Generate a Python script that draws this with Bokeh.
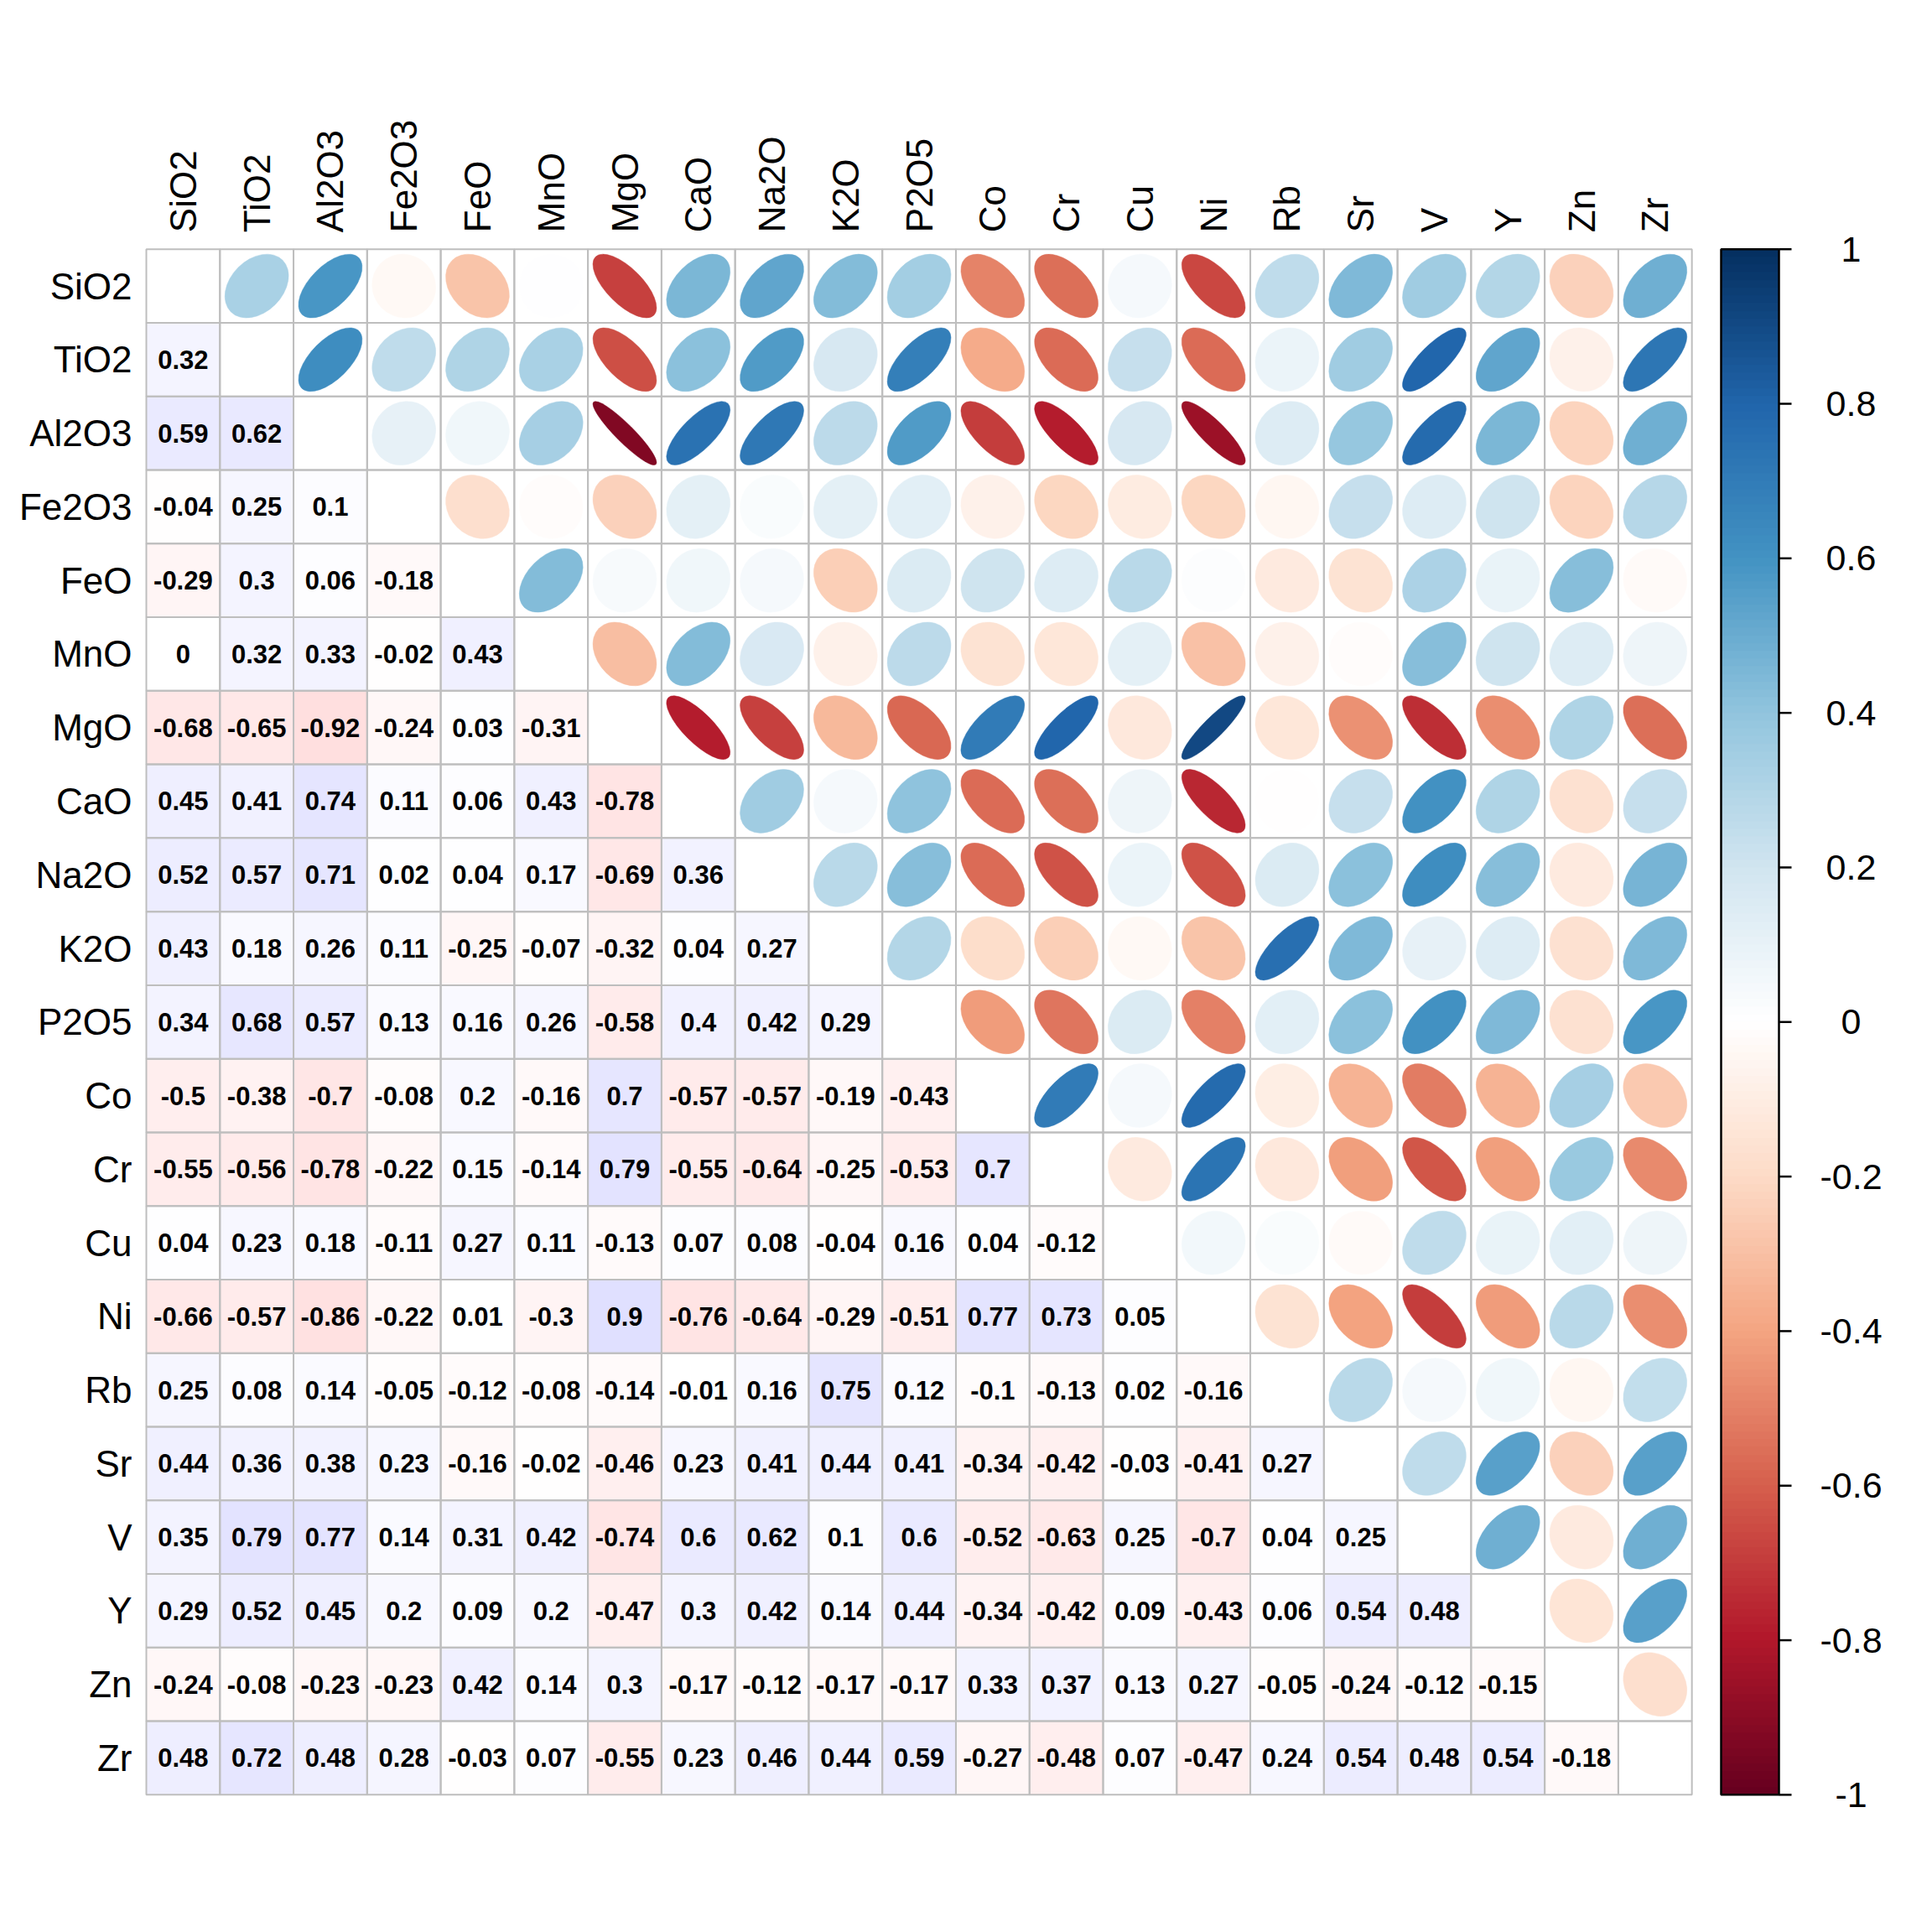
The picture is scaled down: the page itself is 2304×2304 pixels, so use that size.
import numpy as np
from bokeh.plotting import figure
from bokeh.models import ColumnDataSource, LinearColorMapper, Range1d
from bokeh.transform import transform
from bokeh.core.properties import value
from bokeh.embed import file_html
from bokeh.resources import INLINE

# ---------------- data ----------------
variables = ["SiO2", "TiO2", "Al2O3", "Fe2O3", "FeO", "MnO", "MgO", "CaO", "Na2O",
             "K2O", "P2O5", "Co", "Cr", "Cu", "Ni", "Rb", "Sr", "V", "Y", "Zn", "Zr"]

# lower triangle of the correlation matrix (row i, columns 0..i-1)
lower = [
    [],
    [0.32],
    [0.59, 0.62],
    [-0.04, 0.25, 0.1],
    [-0.29, 0.3, 0.06, -0.18],
    [0, 0.32, 0.33, -0.02, 0.43],
    [-0.68, -0.65, -0.92, -0.24, 0.03, -0.31],
    [0.45, 0.41, 0.74, 0.11, 0.06, 0.43, -0.78],
    [0.52, 0.57, 0.71, 0.02, 0.04, 0.17, -0.69, 0.36],
    [0.43, 0.18, 0.26, 0.11, -0.25, -0.07, -0.32, 0.04, 0.27],
    [0.34, 0.68, 0.57, 0.13, 0.16, 0.26, -0.58, 0.4, 0.42, 0.29],
    [-0.5, -0.38, -0.7, -0.08, 0.2, -0.16, 0.7, -0.57, -0.57, -0.19, -0.43],
    [-0.55, -0.56, -0.78, -0.22, 0.15, -0.14, 0.79, -0.55, -0.64, -0.25, -0.53, 0.7],
    [0.04, 0.23, 0.18, -0.11, 0.27, 0.11, -0.13, 0.07, 0.08, -0.04, 0.16, 0.04, -0.12],
    [-0.66, -0.57, -0.86, -0.22, 0.01, -0.3, 0.9, -0.76, -0.64, -0.29, -0.51, 0.77, 0.73, 0.05],
    [0.25, 0.08, 0.14, -0.05, -0.12, -0.08, -0.14, -0.01, 0.16, 0.75, 0.12, -0.1, -0.13, 0.02, -0.16],
    [0.44, 0.36, 0.38, 0.23, -0.16, -0.02, -0.46, 0.23, 0.41, 0.44, 0.41, -0.34, -0.42, -0.03, -0.41, 0.27],
    [0.35, 0.79, 0.77, 0.14, 0.31, 0.42, -0.74, 0.6, 0.62, 0.1, 0.6, -0.52, -0.63, 0.25, -0.7, 0.04, 0.25],
    [0.29, 0.52, 0.45, 0.2, 0.09, 0.2, -0.47, 0.3, 0.42, 0.14, 0.44, -0.34, -0.42, 0.09, -0.43, 0.06, 0.54, 0.48],
    [-0.24, -0.08, -0.23, -0.23, 0.42, 0.14, 0.3, -0.17, -0.12, -0.17, -0.17, 0.33, 0.37, 0.13, 0.27, -0.05, -0.24, -0.12, -0.15],
    [0.48, 0.72, 0.48, 0.28, -0.03, 0.07, -0.55, 0.23, 0.46, 0.44, 0.59, -0.27, -0.48, 0.07, -0.47, 0.24, 0.54, 0.48, 0.54, -0.18],
]

cbar_ticks = [-1, -0.8, -0.6, -0.4, -0.2, 0, 0.2, 0.4, 0.6, 0.8, 1]
cbar_labels = ["-1", "-0.8", "-0.6", "-0.4", "-0.2", "0", "0.2", "0.4", "0.6", "0.8", "1"]

# ---------------- palettes ----------------
anchors = ["#67001F", "#B2182B", "#D6604D", "#F4A582", "#FDDBC7", "#FFFFFF",
           "#D1E5F0", "#92C5DE", "#4393C3", "#2166AC", "#053061"]


def ramp(cols, n):
    rgb = np.array([[int(c[k:k + 2], 16) for k in (1, 3, 5)] for c in cols], dtype=float)
    pos = np.linspace(0, 1, len(cols))
    t = np.linspace(0, 1, n)
    out = []
    for tt in t:
        r = [np.interp(tt, pos, rgb[:, ch]) for ch in range(3)]
        out.append("#%02X%02X%02X" % tuple(int(round(v)) for v in r))
    return out


palette = ramp(anchors, 200)
bg_palette = ramp(["#FFDCDC", "#FFFFFF", "#DCDCFF"], 201)
mapper = LinearColorMapper(palette=palette, low=-1, high=1)
bg_mapper = LinearColorMapper(palette=bg_palette, low=-1, high=1)

# ---------------- build matrix ----------------
n = len(variables)
M = np.eye(n)
for i, row in enumerate(lower):
    for j, v in enumerate(row):
        M[i, j] = v
        M[j, i] = v

lo_x, lo_y, lo_r, lo_t = [], [], [], []
up_x, up_y, up_r = [], [], []
all_x, all_y = [], []
for i in range(n):
    for j in range(n):
        x, y = j + 1, n - i
        all_x.append(x)
        all_y.append(y)
        if j < i:
            lo_x.append(x); lo_y.append(y); lo_r.append(M[i, j])
            lo_t.append(("%g" % M[i, j]))
        elif j > i:
            up_x.append(x); up_y.append(y); up_r.append(M[i, j])

up_r_arr = np.array(up_r)
scale = 0.865
lo_src = ColumnDataSource(dict(x=lo_x, y=lo_y, r=lo_r, t=lo_t))
up_src = ColumnDataSource(dict(x=up_x, y=up_y, r=up_r,
                               w=scale * np.sqrt(1 + up_r_arr),
                               h=scale * np.sqrt(1 - up_r_arr)))

# ---------------- figure ----------------
c = 87.77
x0 = 0.5 - 174 / c
y1 = 21.5 + 296.7 / c
span = 2304 / c
p = figure(width=2304, height=2304, output_backend="svg", toolbar_location=None,
           x_range=Range1d(x0, x0 + span), y_range=Range1d(y1 - span, y1),
           x_axis_type=None, y_axis_type=None, min_border=0)
p.outline_line_color = None
p.grid.visible = False
p.background_fill_color = "white"

# tinted lower cells
p.rect(x="x", y="y", width=1, height=1, source=lo_src,
       fill_color=transform("r", bg_mapper), line_color=None)
# grid
p.rect(x=all_x, y=all_y, width=1, height=1, fill_color=None,
       line_color="#BEBEBE", line_width=2)
# ellipses
p.ellipse(x="x", y="y", width="w", height="h", angle=np.pi / 4, source=up_src,
          fill_color=transform("r", mapper), line_color=transform("r", mapper), line_width=0.5)
# numbers
p.text(x="x", y="y", text="t", source=lo_src, text_align="center", text_baseline="middle",
       text_font=value("Liberation Sans"), text_font_style="bold",
       text_font_size=value("31px"), text_color="black")

# variable labels
cols_x = list(range(1, n + 1))
rows_y = [n - i for i in range(n)]
p.text(x=cols_x, y=[21.5 + 20 / c] * n, text=variables, angle=np.pi / 2,
       text_align="left", text_baseline="middle",
       text_font=value("Liberation Sans"), text_font_size=value("44px"), text_color="black")
p.text(x=[0.5 - 17 / c] * n, y=rows_y, text=variables,
       text_align="right", text_baseline="middle",
       text_font=value("Liberation Sans"), text_font_size=value("44px"), text_color="black")

# colour bar
cb_left = 0.5 + (2052 - 174) / c
cb_right = 0.5 + (2121 - 174) / c
cb_tick = 0.5 + (2136 - 174) / c
cb_lab = 0.5 + (2207 - 174) / c
grad = np.linspace(-1 + 0.005, 1 - 0.005, 200).reshape(200, 1)
p.image(image=[grad], x=cb_left, y=0.5, dw=cb_right - cb_left, dh=n, color_mapper=mapper)
p.quad(left=[cb_left], right=[cb_right], bottom=[0.5], top=[n + 0.5],
       fill_color=None, line_color="black", line_width=2.5)
tick_y = [0.5 + n * (v + 1) / 2 for v in cbar_ticks]
p.segment(x0=[cb_right] * len(tick_y), x1=[cb_tick] * len(tick_y), y0=tick_y, y1=tick_y,
          line_color="black", line_width=2.5)
p.text(x=[cb_lab] * len(tick_y), y=tick_y, text=cbar_labels, text_align="center",
       text_baseline="middle", text_font=value("Liberation Sans"),
       text_font_size=value("43px"), text_color="black")

open("out.html", "w").write(file_html(p, INLINE))
